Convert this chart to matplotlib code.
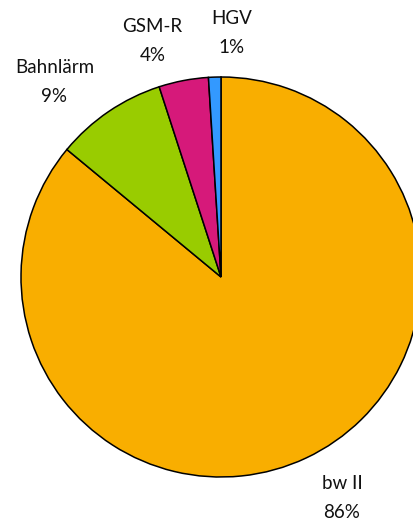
import matplotlib.pyplot as plt

# share of each item in percent
labels = ["bw II", "Bahnlärm", "GSM-R", "HGV"]
shares = [86, 9, 4, 1]
colors = ["#F9AE00", "#99CC00", "#D6197A", "#3399FF"]

# where each label sits (pie radius = 1)
label_pos = [(0.605, -1.105), (-0.8325, 0.975), (-0.3425, 1.18), (0.055, 1.22)]

fig = plt.figure(figsize=(4.13, 5.22), dpi=100)
ax = fig.add_axes([0, 0, 1, 1])

ax.pie(shares, colors=colors, startangle=90, counterclock=False,
       radius=1.0, center=(0, 0),
       wedgeprops=dict(edgecolor="black", linewidth=1.1))

for name, val, (x, y) in zip(labels, shares, label_pos):
    ax.text(x, y, f"{name}\n{val}%", ha="center", va="center",
            fontsize=13.5, family="Lato", linespacing=1.9, color="#111111")

ax.set_xlim(-221 / 200, 192 / 200)
ax.set_ylim(-245 / 200, 277 / 200)
ax.set_aspect("equal")
ax.axis("off")

fig.savefig("out.png", dpi=100)
